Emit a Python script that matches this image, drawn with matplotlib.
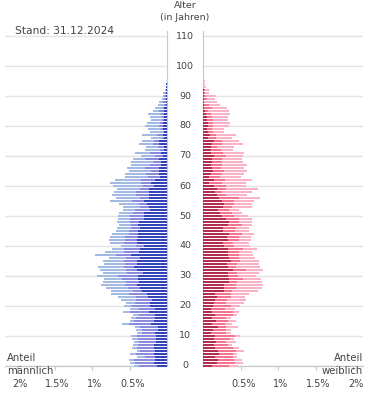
import matplotlib
matplotlib.use("Agg")
import matplotlib.pyplot as plt
from matplotlib.transforms import blended_transform_factory, ScaledTranslation

# ---------------- data (share of total population in %) ----------------
ages_m = list(range(0, 95))
# cumulative widths: dark, dark+medium, total (dark+medium+light)
m_dark = [0.14, 0.17, 0.16, 0.16, 0.18, 0.16, 0.17, 0.17, 0.15, 0.15,
          0.15, 0.16, 0.12, 0.12, 0.21, 0.18, 0.16, 0.16, 0.24, 0.16,
          0.23, 0.23, 0.20, 0.25, 0.27, 0.33, 0.36, 0.40, 0.38, 0.39,
          0.39, 0.32, 0.40, 0.44, 0.40, 0.40, 0.36, 0.48, 0.38, 0.36,
          0.31, 0.40, 0.40, 0.39, 0.39, 0.39, 0.36, 0.39, 0.38, 0.31,
          0.31, 0.31, 0.23, 0.24, 0.27, 0.31, 0.24, 0.24, 0.24, 0.24,
          0.17, 0.21, 0.16, 0.09, 0.11, 0.11, 0.11, 0.08, 0.08, 0.11,
          0.06, 0.08, 0.04, 0.04, 0.11, 0.11, 0.04, 0.06, 0.04, 0.05,
          0.05, 0.05, 0.04, 0.04, 0.04, 0.04, 0.04, 0.02, 0.02, 0.02,
          0.02, 0.02, 0.01, 0.01, 0.01]
m_dark_mid = [0.37, 0.43, 0.44, 0.30, 0.42, 0.36, 0.40, 0.39, 0.38, 0.39,
              0.40, 0.34, 0.34, 0.36, 0.51, 0.44, 0.42, 0.38, 0.50, 0.38,
              0.47, 0.43, 0.42, 0.42, 0.51, 0.45, 0.52, 0.56, 0.55, 0.60,
              0.66, 0.54, 0.55, 0.58, 0.56, 0.57, 0.55, 0.68, 0.57, 0.57,
              0.41, 0.57, 0.56, 0.56, 0.51, 0.51, 0.48, 0.48, 0.50, 0.49,
              0.49, 0.45, 0.43, 0.36, 0.37, 0.47, 0.36, 0.41, 0.41, 0.36,
              0.32, 0.35, 0.35, 0.25, 0.28, 0.21, 0.29, 0.23, 0.19, 0.29,
              0.16, 0.23, 0.10, 0.12, 0.19, 0.17, 0.07, 0.13, 0.06, 0.08,
              0.11, 0.09, 0.07, 0.07, 0.08, 0.11, 0.06, 0.04, 0.05, 0.04,
              0.04, 0.03, 0.02, 0.01, 0.01]
m_total = [0.44, 0.50, 0.51, 0.40, 0.49, 0.40, 0.47, 0.46, 0.44, 0.47,
           0.48, 0.40, 0.41, 0.43, 0.60, 0.50, 0.48, 0.45, 0.59, 0.49,
           0.57, 0.55, 0.61, 0.66, 0.75, 0.75, 0.81, 0.88, 0.85, 0.84,
           0.93, 0.85, 0.89, 0.92, 0.84, 0.85, 0.77, 0.96, 0.83, 0.74,
           0.62, 0.76, 0.77, 0.76, 0.73, 0.68, 0.67, 0.64, 0.67, 0.66,
           0.65, 0.64, 0.59, 0.59, 0.64, 0.76, 0.68, 0.73, 0.71, 0.67,
           0.72, 0.76, 0.69, 0.56, 0.56, 0.51, 0.53, 0.48, 0.48, 0.45,
           0.35, 0.43, 0.29, 0.28, 0.37, 0.33, 0.21, 0.34, 0.23, 0.25,
           0.29, 0.27, 0.21, 0.23, 0.25, 0.19, 0.16, 0.12, 0.11, 0.07,
           0.05, 0.05, 0.03, 0.02, 0.02]

ages_f = list(range(0, 96))
f_dark = [0.12, 0.19, 0.20, 0.16, 0.21, 0.20, 0.16, 0.15, 0.17, 0.15,
          0.16, 0.11, 0.13, 0.20, 0.12, 0.17, 0.12, 0.16, 0.12, 0.11,
          0.13, 0.15, 0.16, 0.19, 0.16, 0.28, 0.28, 0.28, 0.35, 0.35,
          0.33, 0.33, 0.40, 0.33, 0.32, 0.37, 0.35, 0.33, 0.33, 0.33,
          0.28, 0.27, 0.33, 0.32, 0.35, 0.27, 0.27, 0.33, 0.35, 0.31,
          0.25, 0.23, 0.20, 0.27, 0.28, 0.25, 0.21, 0.19, 0.16, 0.19,
          0.15, 0.08, 0.15, 0.08, 0.11, 0.13, 0.12, 0.11, 0.12, 0.12,
          0.15, 0.11, 0.11, 0.11, 0.12, 0.15, 0.07, 0.09, 0.07, 0.05,
          0.07, 0.07, 0.05, 0.05, 0.04, 0.03, 0.01, 0.01, 0.01, 0.01,
          0.01, 0.01, 0.01, 0.00, 0.00, 0.00]
f_dark_mid = [0.35, 0.43, 0.41, 0.40, 0.40, 0.44, 0.40, 0.33, 0.31, 0.36,
              0.43, 0.31, 0.31, 0.31, 0.29, 0.33, 0.31, 0.40, 0.40, 0.29,
              0.37, 0.31, 0.32, 0.37, 0.37, 0.39, 0.44, 0.44, 0.45, 0.53,
              0.47, 0.45, 0.57, 0.44, 0.45, 0.49, 0.48, 0.48, 0.48, 0.53,
              0.41, 0.40, 0.48, 0.48, 0.52, 0.43, 0.44, 0.52, 0.48, 0.48,
              0.41, 0.39, 0.35, 0.39, 0.41, 0.41, 0.48, 0.31, 0.25, 0.31,
              0.31, 0.25, 0.29, 0.23, 0.25, 0.28, 0.24, 0.25, 0.25, 0.25,
              0.31, 0.27, 0.24, 0.19, 0.25, 0.25, 0.17, 0.17, 0.13, 0.12,
              0.13, 0.13, 0.13, 0.12, 0.11, 0.07, 0.12, 0.08, 0.01, 0.05,
              0.04, 0.02, 0.02, 0.00, 0.00, 0.00]
f_total = [0.47, 0.53, 0.52, 0.45, 0.45, 0.55, 0.48, 0.39, 0.44, 0.41,
           0.49, 0.37, 0.37, 0.47, 0.39, 0.44, 0.37, 0.45, 0.48, 0.43,
           0.49, 0.55, 0.57, 0.56, 0.61, 0.73, 0.79, 0.80, 0.79, 0.77,
           0.71, 0.75, 0.80, 0.76, 0.75, 0.75, 0.69, 0.66, 0.65, 0.72,
           0.63, 0.61, 0.64, 0.64, 0.68, 0.61, 0.61, 0.65, 0.65, 0.65,
           0.60, 0.52, 0.48, 0.65, 0.65, 0.68, 0.76, 0.59, 0.65, 0.73,
           0.57, 0.57, 0.65, 0.51, 0.55, 0.59, 0.55, 0.59, 0.53, 0.52,
           0.53, 0.55, 0.40, 0.41, 0.53, 0.48, 0.39, 0.44, 0.28, 0.28,
           0.35, 0.36, 0.33, 0.33, 0.36, 0.35, 0.32, 0.23, 0.19, 0.16,
           0.17, 0.08, 0.08, 0.04, 0.03, 0.03]

age_ticks = list(range(0, 111, 10))
pct_ticks = [0.5, 1.0, 1.5, 2.0]
pct_labels = ["0.5%", "1%", "1.5%", "2%"]

# ---------------- style ----------------
M_COLS = ["#a3bbe3", "#8a8bdc", "#3343b9"]   # light, medium, dark
F_COLS = ["#f9b2c6", "#f2748f", "#b22e50"]
GRID = "#e4e4e4"
AXIS = "#c8c8c8"
TXT = "#444444"
FONT = "DejaVu Sans"

W, H = 375, 416
fig = plt.figure(figsize=(W / 100, H / 100), dpi=100)
y0, y1 = 366, 31
axL = fig.add_axes([5 / W, (H - y0) / H, (167 - 5) / W, (y0 - y1) / H])
axR = fig.add_axes([203 / W, (H - y0) / H, (363 - 203) / W, (y0 - y1) / H])

px_per_pct = 75.0
ytop = (y0 - y1) / 3.0
bar_h = 0.78

for ax, ages, series, cols in (
        (axL, ages_m, (m_total, m_dark_mid, m_dark), M_COLS),
        (axR, ages_f, (f_total, f_dark_mid, f_dark), F_COLS)):
    for vals, c in zip(series, cols):
        ax.barh(ages, vals, height=bar_h, color=c, linewidth=0,
                clip_on=False, zorder=3)
    ax.set_ylim(0, ytop)
    ax.set_yticks(age_ticks)
    ax.yaxis.grid(True, color=GRID, linewidth=1.0, zorder=0)
    ax.set_axisbelow(True)
    ax.tick_params(axis="y", length=0, labelleft=False, labelright=False)
    ax.set_xticks(pct_ticks)
    ax.set_xticklabels(pct_labels)
    ax.tick_params(axis="x", length=3.0, width=0.8, color=AXIS, pad=6.5,
                   labelsize=7, labelcolor=TXT)
    for lbl in ax.get_xticklabels():
        lbl.set_fontfamily(FONT)
        lbl.set_transform(lbl.get_transform() +
                          ScaledTranslation(3 / 100, 0, fig.dpi_scale_trans))
    for s in ("top", "left", "right"):
        ax.spines[s].set_visible(False)
    ax.spines["bottom"].set_color(AXIS)
    ax.spines["bottom"].set_linewidth(0.9)
    ax.set_facecolor("none")

axL.set_xlim(162 / px_per_pct, 0)
axR.set_xlim(0, 160 / px_per_pct)
axL.spines["right"].set_visible(True)
axL.spines["right"].set_color(AXIS)
axR.spines["left"].set_visible(True)
axR.spines["left"].set_color(AXIS)

# age labels in the middle
tr = blended_transform_factory(fig.transFigure, axL.transData)
for a in age_ticks:
    fig.text(185 / W, a, str(a), transform=tr, ha="center", va="center",
             fontsize=6.8, color=TXT, family=FONT)

def fy(py):
    return 1 - py / H

fig.text(185 / W, fy(6), "Alter", ha="center", va="center",
         fontsize=6.8, color=TXT, family=FONT)
fig.text(185 / W, fy(18), "(in Jahren)", ha="center", va="center",
         fontsize=6.8, color=TXT, family=FONT)
fig.text(15 / W, fy(31), "Stand: 31.12.2024", ha="left", va="center",
         fontsize=7.7, color=TXT, family=FONT)
fig.text(7 / W, fy(358), "Anteil", ha="left", va="center",
         fontsize=7.3, color=TXT, family=FONT)
fig.text(7 / W, fy(371), "männlich", ha="left", va="center",
         fontsize=7.3, color=TXT, family=FONT)
fig.text(363 / W, fy(358), "Anteil", ha="right", va="center",
         fontsize=7.3, color=TXT, family=FONT)
fig.text(363 / W, fy(371), "weiblich", ha="right", va="center",
         fontsize=7.3, color=TXT, family=FONT)

fig.savefig("out.png", dpi=100, facecolor="white")
